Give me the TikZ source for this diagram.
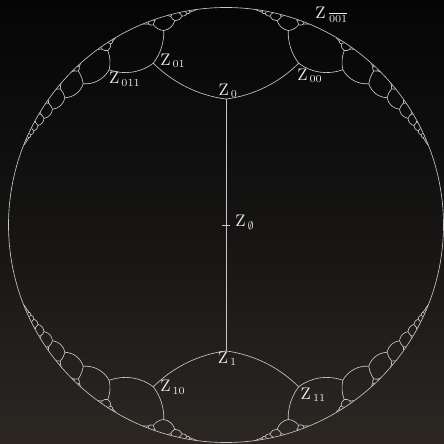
\documentclass[tikz,border=0pt]{standalone}

\definecolor{bgtop}{RGB}{5,5,5}
\definecolor{bgmid}{RGB}{21,20,19}
\definecolor{bgbot}{RGB}{44,39,35}
\definecolor{geocol}{RGB}{200,200,200}
\definecolor{labcol}{RGB}{236,236,236}

\def\rootlen{0.579}
\def\cutoff{0.003}
\def\maxlevel{22}
\def\nearlevel{4}

\edef\kroot{\fpeval{1/sqrt(1-(\rootlen)^2)}}
\edef\krootlen{\fpeval{\kroot*\rootlen}}

% step of a child: hyperbolic length (as disk radius) and bend
\newcommand\setstep[3]{%
  \edef\kk{\fpeval{1/sqrt(1-(#2)^2)}}%
  \expandafter\edef\csname st#10ar\endcsname{\fpeval{\kk*cosd(#3/2-45)}}%
  \expandafter\edef\csname st#10ai\endcsname{\fpeval{\kk*sind(#3/2-45)}}%
  \expandafter\edef\csname st#10br\endcsname{\fpeval{\kk*(#2)*cosd(#3/2+45)}}%
  \expandafter\edef\csname st#10bi\endcsname{\fpeval{\kk*(#2)*sind(#3/2+45)}}%
  \expandafter\edef\csname st#11ar\endcsname{\fpeval{\kk*cosd(45-#3/2)}}%
  \expandafter\edef\csname st#11ai\endcsname{\fpeval{\kk*sind(45-#3/2)}}%
  \expandafter\edef\csname st#11br\endcsname{\fpeval{\kk*(#2)*cosd(135-#3/2)}}%
  \expandafter\edef\csname st#11bi\endcsname{\fpeval{\kk*(#2)*sind(135-#3/2)}}}
\setstep{n}{0.62}{7.5}
\setstep{f}{0.64}{12}

\newcommand\geodesic[2]{%
  \edef\gdet{\fpeval{(\px)*(\qy)-(\py)*(\qx)}}%
  \def\gstraight{1}%
  \ifnum\fpeval{abs(\gdet)>0.000000001}=1\relax
    \edef\gu{\fpeval{(1+(\px)^2+(\py)^2)/2}}%
    \edef\gv{\fpeval{(1+(\qx)^2+(\qy)^2)/2}}%
    \edef\gcx{\fpeval{((\gu)*(\qy)-(\gv)*(\py))/(\gdet)}}%
    \edef\gcy{\fpeval{((\px)*(\gv)-(\qx)*(\gu))/(\gdet)}}%
    \edef\grad{\fpeval{sqrt(((\px)-(\gcx))^2+((\py)-(\gcy))^2)}}%
    \edef\gsag{\fpeval{(((\qx)-(\px))^2+((\qy)-(\py))^2)/(8*(\grad))}}%
    \edef\gstraight{\fpeval{((\grad)>20)||((\gsag)<0.0003)}}%
  \fi
  \ifnum\gstraight=1\relax
    \draw[geo] (#1) -- (#2);
  \else
    \edef\gst{\fpeval{atand((\py)-(\gcy),(\px)-(\gcx))}}%
    \edef\gdel{\fpeval{atand((\qy)-(\gcy),(\qx)-(\gcx))-(\gst)}}%
    \edef\gdel{\fpeval{round((\gdel)>180?(\gdel)-360:((\gdel)<-180?(\gdel)+360:(\gdel)),5)}}%
    \edef\gst{\fpeval{round(\gst,5)}}%
    \edef\grad{\fpeval{round(\grad,6)}}%
    \draw[geo] (#1) arc[start angle=\gst, delta angle=\gdel, radius=\grad];
  \fi}

\newcommand\childof[7]{%
  \edef\sset{\ifnum#7<\nearlevel n\else f\fi#2}%
  \edef\sar{\csname st\sset ar\endcsname}\edef\sai{\csname st\sset ai\endcsname}%
  \edef\sbr{\csname st\sset br\endcsname}\edef\sbi{\csname st\sset bi\endcsname}%
  \edef\nar{\fpeval{(#3)*(\sar)-(#4)*(\sai)+(#5)*(\sbr)+(#6)*(\sbi)}}%
  \edef\nai{\fpeval{(#3)*(\sai)+(#4)*(\sar)+(#6)*(\sbr)-(#5)*(\sbi)}}%
  \edef\nbr{\fpeval{(#3)*(\sbr)-(#4)*(\sbi)+(#5)*(\sar)+(#6)*(\sai)}}%
  \edef\nbi{\fpeval{(#3)*(\sbi)+(#4)*(\sbr)+(#6)*(\sar)-(#5)*(\sai)}}%
  \edef\px{\fpeval{((#5)*(#3)-(#6)*(#4))/((#3)^2+(#4)^2)}}%
  \edef\py{\fpeval{((#5)*(#4)+(#6)*(#3))/((#3)^2+(#4)^2)}}%
  \edef\qx{\fpeval{round(((\nbr)*(\nar)-(\nbi)*(\nai))/((\nar)^2+(\nai)^2),7)}}%
  \edef\qy{\fpeval{round(((\nbr)*(\nai)+(\nbi)*(\nar))/((\nar)^2+(\nai)^2),7)}}%
  \ifnum\fpeval{1-(\qx)^2-(\qy)^2>\cutoff}=1\relax
    \coordinate (w#1#2) at (\qx,\qy);
    \geodesic{w#1}{w#1#2}%
    \ifnum#7<\maxlevel\relax
      \edef\next{\noexpand\branch{#1#2}{\nar}{\nai}{\nbr}{\nbi}{\the\numexpr#7+1}}\next
    \fi
  \fi}

\newcommand\branch[6]{%
  \childof{#1}{0}{#2}{#3}{#4}{#5}{#6}%
  \childof{#1}{1}{#2}{#3}{#4}{#5}{#6}}

\tikzset{
  geo/.style={draw=geocol,line width=0.42pt,line join=round},
  lbl/.style={text=labcol,inner sep=0pt,anchor=base west,font=\fontsize{10.5pt}{12pt}\selectfont}
}

\begin{document}
\begin{tikzpicture}[x=5cm,y=5cm]
\shade[top color=bgtop,bottom color=bgbot,middle color=bgmid] (-1.0391,-1.0069) rectangle (1.0023,1.0345);
\useasboundingbox (-1.0391,-1.0069) rectangle (1.0023,1.0345);

\coordinate (w) at (0,0);
\coordinate (w0) at (0,\rootlen);
\coordinate (w1) at (0,-\rootlen);
\draw[geo] (w) circle[radius=1];
\draw[geo] (w0) -- (w1);
\draw[geo] ([xshift=-2.3pt]w) -- ([xshift=2.3pt]w);

\branch{0}{\kroot}{0}{0}{\krootlen}{1}
\branch{1}{0}{\kroot}{-\krootlen}{0}{1}

\node[lbl] (lroot) at ([shift={(5.9pt,-1.1pt)}]w) {$\mathrm{Z}_{\,\emptyset}$};
\node[lbl] (l0) at ([shift={(-5.1pt,2.6pt)}]w0) {$\mathrm{Z}_{\,0}$};
\node[lbl] (l1) at ([shift={(-5.5pt,-8.2pt)}]w1) {$\mathrm{Z}_{\,1}$};
\node[lbl] (l00) at ([shift={(-1.1pt,-11.3pt)}]w00) {$\mathrm{Z}_{\,00}$};
\node[lbl] (l01) at ([shift={(4.4pt,-1.5pt)}]w01) {$\mathrm{Z}_{\,01}$};
\node[lbl] (l011) at ([shift={(-0.2pt,-9.3pt)}]w011) {$\mathrm{Z}_{\,011}$};
\node[lbl] (l10) at ([shift={(4.4pt,-3.1pt)}]w10) {$\mathrm{Z}_{\,10}$};
\node[lbl] (l11) at ([shift={(1.1pt,-8.1pt)}]w11) {$\mathrm{Z}_{\,11}$};
\node[lbl] (lbar) at (0.4092,0.9503) {$\mathrm{Z}_{\;\overline{001}}$};
\end{tikzpicture}
\end{document}
